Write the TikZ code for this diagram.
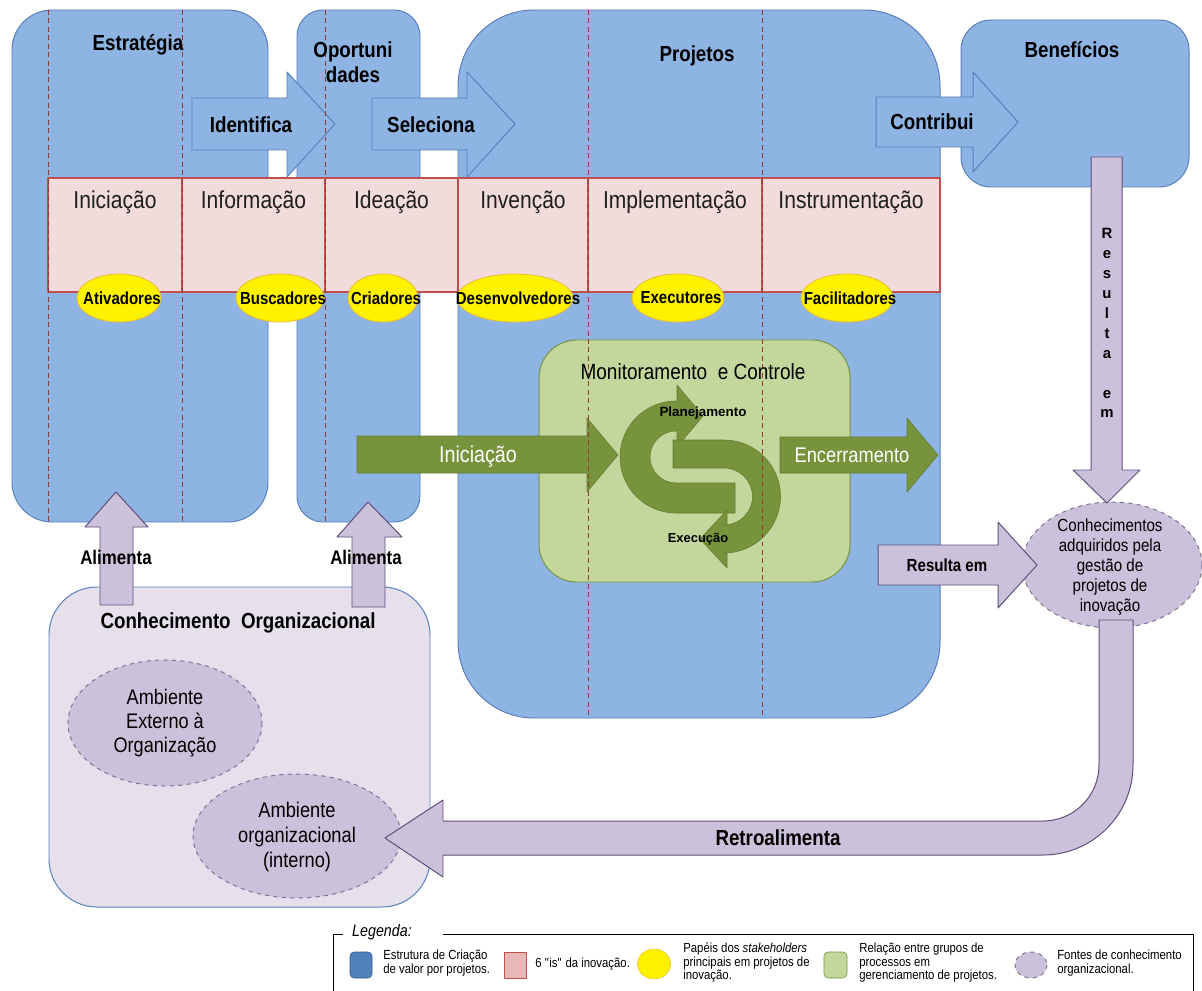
\documentclass[tikz,border=0pt]{standalone}
\usepackage{fontspec}
\setmainfont{Liberation Sans}
\newfontfamily\estreita{Liberation Sans}[FakeStretch=0.86]
\definecolor{azul}{RGB}{142,180,227}
\definecolor{azulborda}{RGB}{88,128,186}
\definecolor{rosa}{RGB}{242,220,219}
\definecolor{rosaborda}{RGB}{192,80,77}
\definecolor{amareloborda}{RGB}{235,190,50}
\definecolor{verdeclaro}{RGB}{195,214,155}
\definecolor{verdeborda}{RGB}{119,147,60}
\definecolor{verdeescuro}{RGB}{119,147,60}
\definecolor{lilas}{RGB}{204,193,218}
\definecolor{lilasclaro}{RGB}{229,224,236}
\definecolor{lilasborda}{RGB}{96,78,122}
\definecolor{tracejado}{RGB}{150,55,52}
\definecolor{azulleg}{RGB}{79,129,189}
\definecolor{rosaleg}{RGB}{230,185,184}
\begin{document}
\begin{tikzpicture}[x=0.025cm, y=-0.025cm, line join=round,
	caixa/.style={fill=azul, draw=azulborda, line width=0.7pt},
	celula/.style={fill=rosa, draw=rosaborda, line width=0.8pt},
	papel/.style={fill=yellow, draw=amareloborda, line width=0.6pt},
	seta verde/.style={fill=verdeescuro, draw=verdeescuro!85!black, line width=0.4pt},
	seta lilas/.style={fill=lilas, draw=lilasborda, line width=0.7pt},
	fonte/.style={fill=lilas, draw=lilasborda!80, dashed, line width=0.7pt},
	divisa/.style={draw=tracejado, line width=0.7pt, dash pattern=on 3.5pt off 2.5pt},
	titulo/.style={font=\estreita\bfseries\fontsize{15.5pt}{18pt}\selectfont},
	fase/.style={font=\estreita\fontsize{17.4pt}{20pt}\selectfont, text=black!88},
	papeltxt/.style={font=\estreita\bfseries\fontsize{12.4pt}{14pt}\selectfont},
	legtxt/.style={font=\estreita\fontsize{9.4pt}{9.6pt}\selectfont, align=left, anchor=west, inner sep=0pt}]
	
	% --- Khung nền ---
	\useasboundingbox (0,0) rectangle (1202,991);
	\fill[white] (0,0) rectangle (1202,991);
	
	% --- Các khối xanh: Estratégia, Oportunidades, Projetos, Benefícios ---
	\draw[caixa, rounded corners=1cm] (12,10) rectangle (268,522);
	\draw[caixa, rounded corners=0.65cm] (297,10) rectangle (420,522);
	\draw[caixa, rounded corners=1.9cm] (458,10) rectangle (940,718);
	\draw[caixa, rounded corners=0.75cm] (961,20) rectangle (1189,187);
	
	% --- Mũi tên xanh ---
	\draw[caixa] (192,98) -- (287,98) -- (287,72) -- (335,124) -- (287,177) -- (287,150) -- (192,150) -- cycle;
	\draw[caixa] (372,98) -- (467,98) -- (467,72) -- (515,124) -- (467,177) -- (467,150) -- (372,150) -- cycle;
	\draw[caixa] (876,97) -- (973,97) -- (973,72) -- (1018,122) -- (973,172) -- (973,147) -- (876,147) -- cycle;
	
	% --- Hàng 6 "is" ---
	\foreach \xa/\xb/\nome in {48/182/Iniciação, 182/325/Informação, 325/458/Ideação, 458/588/Invenção, 588/762/Implementação, 762/940/Instrumentação}{
		\draw[celula] (\xa,178) rectangle (\xb,292);
		\node[fase] (fase\xa) at ({(\xa+\xb)/2},202) {\nome};
	}
	
	% --- Vai trò (elip vàng) ---
	\foreach \cx/\rx/\nome in {119/42/Ativadores, 280/44/Buscadores, 383/35/Criadores, 515/58/Desenvolvedores, 678/46/Executores, 847/46/Facilitadores}{
		\draw[papel] (\cx,298) ellipse [x radius=\rx, y radius=24];
		\node[papeltxt] (papel\cx) at (\cx+3,298) {\nome};
	}
	
	% --- Monitoramento e Controle ---
	\draw[fill=verdeclaro, draw=verdeborda, line width=0.7pt, rounded corners=0.95cm] (539,340) rectangle (850,582);
	\draw[seta verde] (357,436) -- (587,436) -- (587,418) -- (618,455) -- (587,492) -- (587,473) -- (357,473) -- cycle;
	\draw[seta verde] (780,437) -- (907,437) -- (907,418) -- (938,455) -- (907,492) -- (907,473) -- (780,473) -- cycle;
	% vòng Planejamento
	\draw[seta verde] (735,513) -- (676,513) arc[start angle=90, end angle=270, radius=56] -- (677,401) -- (677,385) -- (703,416) -- (677,447) -- (677,431) -- (676,431) arc[start angle=270, end angle=90, radius=26] -- (735,483) -- cycle;
	% vòng Execução
	\draw[seta verde] (673,440) -- (724,440) arc[start angle=270, end angle=450, radius=56.5] -- (727,553) -- (727,568) -- (700,539) -- (727,510) -- (727,525) -- (724,525) arc[start angle=90, end angle=-90, radius=28.5] -- (673,468) -- cycle;
	
	% --- Conhecimento Organizacional ---
	\draw[fill=lilasclaro, draw=azulborda, line width=0.7pt, rounded corners=1.2cm] (49,587) rectangle (430,907);
	\draw[fonte] (165,723) ellipse [x radius=97, y radius=63];
	\draw[fonte] (297,836) ellipse [x radius=104, y radius=62];
	\draw[seta lilas] (100,605) -- (100,527) -- (85,527) -- (116,492) -- (148,527) -- (133,527) -- (133,605) -- cycle;
	\draw[seta lilas] (352,607) -- (352,537) -- (337,537) -- (368,502) -- (402,537) -- (385,537) -- (385,607) -- cycle;
	
	% --- Conhecimentos adquiridos ---
	\draw[fonte] (1112,565) ellipse [x radius=90, y radius=63];
	\draw[seta lilas] (1091,157) -- (1122,157) -- (1122,470) -- (1140,470) -- (1107,503) -- (1073,470) -- (1091,470) -- cycle;
	\draw[seta lilas] (878,545) -- (998,545) -- (998,522) -- (1037,565) -- (998,608) -- (998,585) -- (878,585) -- cycle;
	\draw[seta lilas] (385,838) -- (443,800) -- (443,821) -- (1043,821) arc[start angle=90, end angle=0, radius=56] -- (1099,620) -- (1133,620) -- (1133,765) arc[start angle=0, end angle=90, radius=90] -- (443,855) -- (443,877) -- cycle;
	
	% --- Đường chia nét đứt ---
	\foreach \xd/\yd in {48/522, 182/522, 325/522, 588/718, 762/718}
		\draw[divisa] (\xd,10) -- (\xd,\yd);
	
	% --- Nhãn ---
	\node[titulo] (estrategia) at (138,45) {Estratégia};
	\node[titulo, align=center] (oportunidades) at (353,62) {Oportuni\\dades};
	\node[titulo] (projetos) at (697,56) {Projetos};
	\node[titulo] (beneficios) at (1072,50) {Benefícios};
	\node[titulo] (identifica) at (251,125) {Identifica};
	\node[titulo] (seleciona) at (431,125) {Seleciona};
	\node[titulo] (contribui) at (932,122) {Contribui};
	
	\node[font=\estreita\fontsize{15.7pt}{18pt}\selectfont] (monitoramento) at (693,372) {Monitoramento\ \ e Controle};
	\node[font=\estreita\fontsize{16.3pt}{18pt}\selectfont, text=white] (iniciacao) at (478,457) {Iniciação};
	\node[font=\estreita\fontsize{15.1pt}{18pt}\selectfont, text=white] (encerramento) at (852,455) {Encerramento};
	\node[font=\bfseries\fontsize{9.5pt}{11pt}\selectfont] (planejamento) at (703,413) {Planejamento};
	\node[font=\bfseries\fontsize{9.2pt}{11pt}\selectfont] (execucao) at (698,539) {Execução};
	
	\node[font=\estreita\bfseries\fontsize{14pt}{16pt}\selectfont] (alimenta1) at (116,557) {Alimenta};
	\node[font=\estreita\bfseries\fontsize{14pt}{16pt}\selectfont] (alimenta2) at (366,557) {Alimenta};
	\node[titulo] (conhecimento) at (238,623) {Conhecimento\ \ Organizacional};
	\node[align=center, font=\estreita\fontsize{15pt}{17pt}\selectfont] (externo) at (165,723) {Ambiente\\Externo à\\Organização};
	\node[align=center, font=\estreita\fontsize{15.1pt}{17.7pt}\selectfont] (interno) at (297,837) {Ambiente\\organizacional\\(interno)};
	
	\node[align=center, font=\estreita\fontsize{12.5pt}{14.2pt}\selectfont] (adquiridos) at (1110,567) {Conhecimentos\\adquiridos pela\\gestão de\\projetos de\\inovação};
	\node[align=center, font=\bfseries\fontsize{10.6pt}{14.2pt}\selectfont] (resulta1) at (1107,323) {R\\e\\s\\u\\l\\t\\a\\\mbox{}\\e\\m};
	\node[font=\estreita\bfseries\fontsize{12.5pt}{14pt}\selectfont] (resulta2) at (947,565) {Resulta em};
	\node[titulo] (retro) at (778,838) {Retroalimenta};
	
	% --- Legenda ---
	\draw[line width=0.7pt] (333,991) -- (333,934) -- (343,934);
	\draw[line width=0.7pt] (443,934) -- (1193,934) -- (1193,991);
	\node[font=\estreita\itshape\fontsize{11.8pt}{13pt}\selectfont] (legenda) at (382,932) {Legenda:};
	\draw[fill=azulleg, draw=azulborda!70!black, rounded corners=0.1cm] (350,952) rectangle (372,978);
	\node[legtxt] (leg1) at (383,963) {Estrutura de Criação\\de valor por projetos.};
	\draw[fill=rosaleg, draw=rosaborda] (504,952) rectangle (526,978);
	\node[legtxt] (leg2) at (535,964) {6 \textquotedbl is\textquotedbl{} da inovação.};
	\draw[fill=yellow, draw=amareloborda] (654,964) ellipse [x radius=16.5, y radius=15];
	\node[legtxt] (leg3) at (683,963) {Papéis dos \textit{stakeholders}\\principais em projetos de\\inovação.};
	\draw[fill=verdeclaro, draw=verdeborda, rounded corners=0.1cm] (824,952) rectangle (847,978);
	\node[legtxt] (leg4) at (859,963) {Relação entre grupos de\\processos em\\gerenciamento de projetos.};
	\draw[fonte] (1031,965) ellipse [x radius=16, y radius=13];
	\node[legtxt] (leg5) at (1057,963) {Fontes de conhecimento\\organizacional.};
	
\end{tikzpicture}
\end{document}
